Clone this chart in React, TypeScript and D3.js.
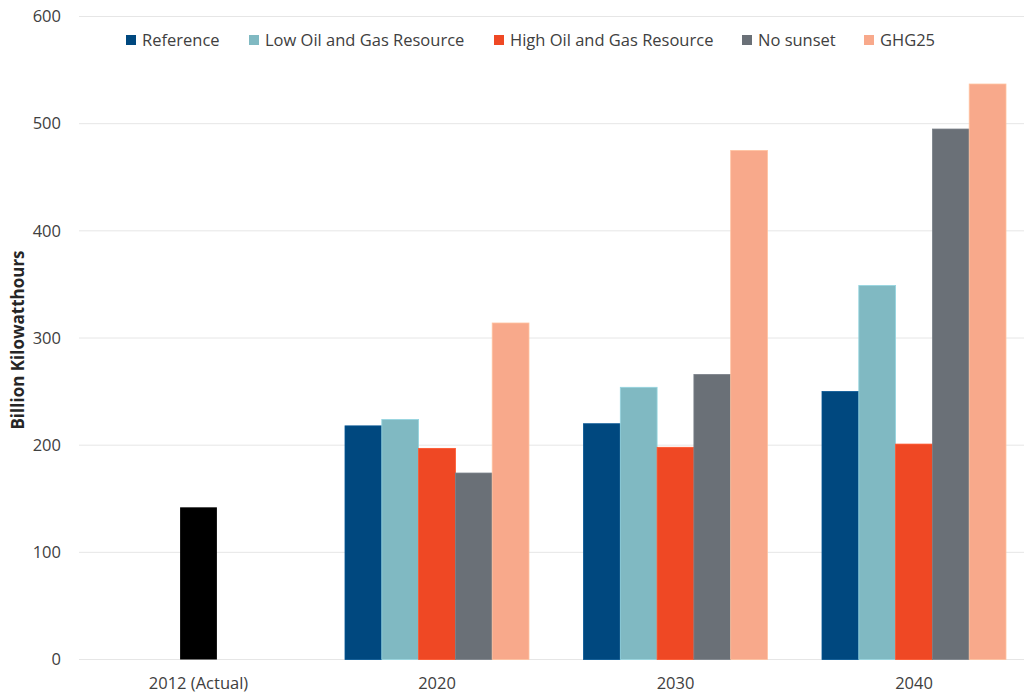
import React from "react";
import * as d3 from "d3";

const categories = ["2012 (Actual)", "2020", "2030", "2040"];
const seriesNames = ["Reference", "Low Oil and Gas Resource", "High Oil and Gas Resource", "No sunset", "GHG25"];
const seriesColors = ["#00487f", "#80b9c2", "#ef4824", "#6a7077", "#f8a98b"];
const actual2012 = 142;
const reference = [218, 220, 250];
const lowOilGas = [224, 254, 349];
const highOilGas = [197, 198, 201];
const noSunset = [174, 266, 495];
const ghg25 = [314, 475, 537];
const yTicks = [0, 100, 200, 300, 400, 500, 600];

const W = 1024;
const H = 695;
const FONT = "'Open Sans', sans-serif";

export default function App() {
  const x = d3.scaleBand<string>().domain(categories).range([79.25, 1033.25]).padding(0);
  const y = d3.scaleLinear().domain([0, 600]).range([659.5, 16.5]);
  const groupW = 184;
  const inner = d3
    .scaleBand<string>()
    .domain(seriesNames)
    .range([-groupW / 2, groupW / 2])
    .padding(0);
  const projections = [reference, lowOilGas, highOilGas, noSunset, ghg25];
  const projYears = categories.slice(1);
  const bw = inner.bandwidth();

  return (
    <svg width={W} height={H} style={{ position: "absolute", left: 0, top: 0, background: "#fff" }}>
      {yTicks.map((t) => (
        <g key={t}>
          <line x1={79} x2={W} y1={y(t)} y2={y(t)} stroke="#e6e6e6" strokeWidth={1} />
          <text x={61} y={y(t)} dy="0.35em" textAnchor="end" fontFamily={FONT} fontSize={16.5} fill="#404040">
            {t}
          </text>
        </g>
      ))}
      <text
        transform={`translate(24, 340) rotate(-90)`}
        textAnchor="middle"
        fontFamily={FONT}
        fontSize={17}
        fontWeight="bold"
        fill="#262626"
      >
        Billion Kilowatthours
      </text>

      {/* 2012 actual bar */}
      <rect
        x={(x(categories[0]) as number) + x.bandwidth() / 2 - bw / 2}
        y={y(actual2012)}
        width={bw}
        height={y(0) - y(actual2012)}
        fill="#000000"
      />

      {projYears.map((yr, i) => (
        <g key={yr} transform={`translate(${(x(yr) as number) + x.bandwidth() / 2},0)`}>
          {seriesNames.map((s, j) => {
            const v = projections[j][i];
            return (
              <rect
                key={s}
                x={inner(s) as number}
                y={y(v)}
                width={bw}
                height={y(0) - y(v)}
                fill={seriesColors[j]}
                stroke={d3.color(seriesColors[j])!.brighter(0.4).formatHex()}
                strokeWidth={0.8}
              />
            );
          })}
        </g>
      ))}

      {categories.map((c) => (
        <text
          key={c}
          x={(x(c) as number) + x.bandwidth() / 2}
          y={683}
          dy="0.35em"
          textAnchor="middle"
          fontFamily={FONT}
          fontSize={16.5}
          fill="#404040"
        >
          {c}
        </text>
      ))}

      {/* legend */}
      {seriesNames.map((s, j) => {
        const lx = [126, 249, 494, 742, 864][j];
        return (
          <g key={s} transform={`translate(${lx},40)`}>
            <rect x={0} y={-5} width={10} height={10} fill={seriesColors[j]} />
            <text x={16} y={0} dy="0.35em" fontFamily={FONT} fontSize={16.5} fill="#404040">
              {s}
            </text>
          </g>
        );
      })}
    </svg>
  );
}
